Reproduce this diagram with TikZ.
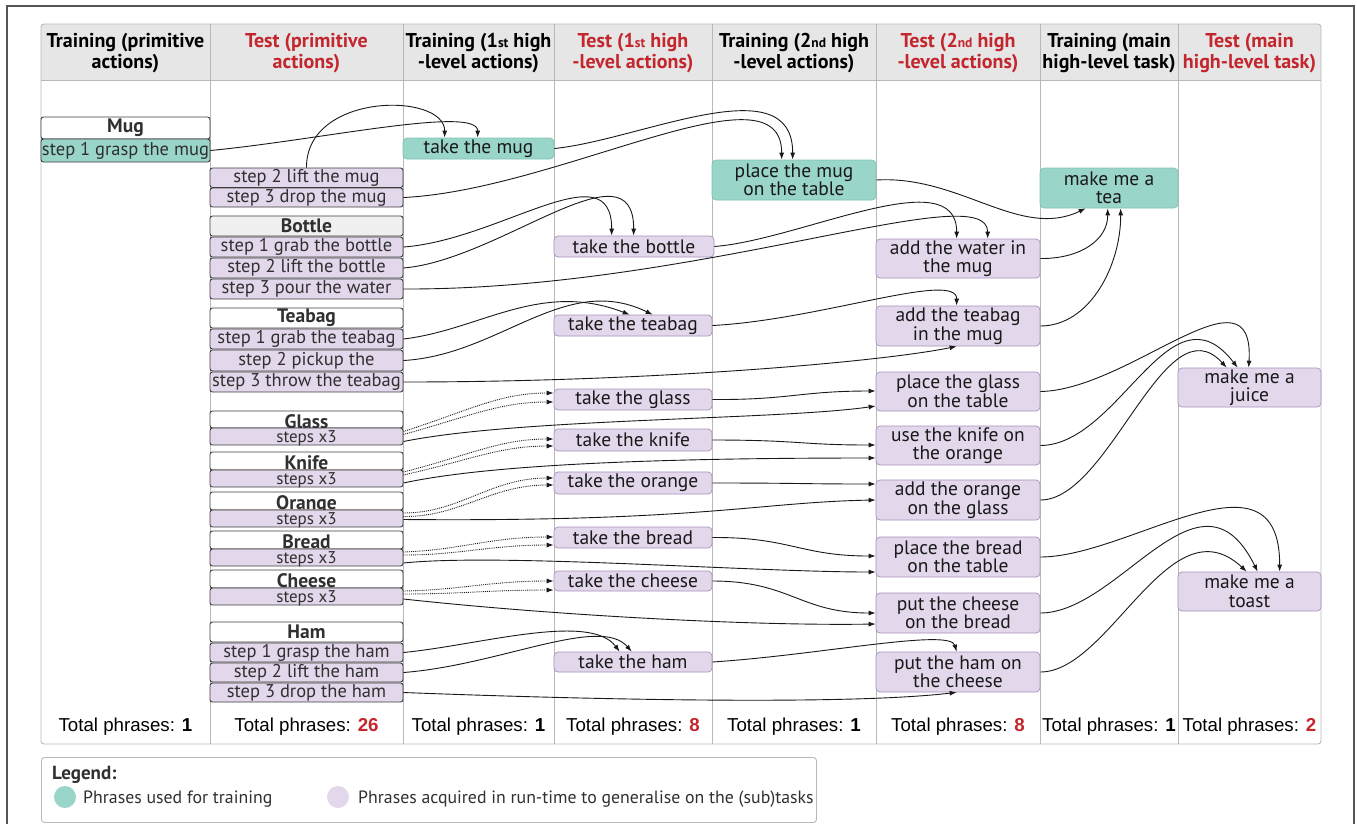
\documentclass[tikz,border=0pt]{standalone}
\usepackage{fontspec}
\setmainfont{PT Sans}
\newfontfamily\arialfont{Liberation Sans}
\usetikzlibrary{arrows.meta}

\definecolor{tealfill}{HTML}{9AD5C9}
\definecolor{tealline}{HTML}{7CC3B5}
\definecolor{lilac}{HTML}{E3D8EB}
\definecolor{lilacline}{HTML}{A690BD}
\definecolor{primline}{HTML}{3E3E3E}
\definecolor{textgray}{HTML}{303030}
\definecolor{testred}{HTML}{C4262E}
\definecolor{headfill}{HTML}{E6E6E6}
\definecolor{gridline}{HTML}{B8B8B8}
\definecolor{framecol}{HTML}{555555}

% box given by its corners (x1,y1) (x2,y2)
\newcommand\phrbox[7]{%
  \node[#1, minimum width={(#5)-(#3)}, minimum height={(#6)-(#4)}]
    (#2) at ({((#3)+(#5))/2},{((#4)+(#6))/2}) {#7};}
\newcommand\ordsup[1]{{\fontsize{13.5}{12}\selectfont #1}}

\begin{document}
\begin{tikzpicture}[x=1pt,y=-1pt,
  colhead/.style={align=center, inner sep=0pt, font=\bfseries\fontsize{20}{21.5}\selectfont, text=black},
  prim/.style={draw=primline, line width=0.9pt, rounded corners=2.5pt, inner sep=0pt,
    font=\fontsize{18.5}{18.5}\selectfont, text=textgray},
  primhead/.style={prim, fill=white, font=\bfseries\fontsize{19.5}{19.5}\selectfont},
  cuthead/.style={primhead, text height=17pt, text depth=0pt},
  primtrain/.style={prim, fill=tealfill},
  primtest/.style={prim, fill=lilac},
  stepsbox/.style={primtest, font=\fontsize{17}{17}\selectfont, text height=12pt, text depth=0pt},
  train/.style={draw=tealline, fill=tealfill, line width=0.7pt, rounded corners=4pt,
    inner sep=0pt, align=center, font=\fontsize{19.5}{18.5}\selectfont, text=black!90},
  test/.style={train, draw=lilacline, fill=lilac},
  total/.style={inner sep=0pt, font=\arialfont\fontsize{18.7}{18.7}\selectfont},
  arr/.style={-{Latex[length=7pt,width=5pt]}, line width=0.9pt, black!90},
  darr/.style={arr, densely dotted},
  legtext/.style={anchor=base west, inner sep=0pt, font=\fontsize{17.8}{17.8}\selectfont, text=textgray}
]
\useasboundingbox (0,0) rectangle (1357,823);

% outer frame
\draw[framecol, line width=1.4pt] (7,840) -- (7,6) -- (1354,6) -- (1354,840);

% table body and header band
\begin{scope}
  \clip[rounded corners=3pt] (41,24) rectangle (1321,744);
  \fill[headfill] (41,24) rectangle (1321,80);
\end{scope}
\draw[gridline, line width=0.9pt, rounded corners=3pt] (41,24) rectangle (1321,744);
\draw[gridline, line width=0.9pt] (41,80) -- (1321,80);
\foreach \cx in {210,403,554,712,876,1040,1178}
  \draw[gridline, line width=0.9pt] (\cx,24) -- (\cx,744);

% column headings
\node[colhead] (hd1) at (125.5,53) {Training (primitive\\actions)};
\node[colhead, text=testred] (hd2) at (306.5,53) {Test (primitive\\actions)};
\node[colhead] (hd3) at (478.5,53) {Training (1\ordsup{st} high\\-level actions)};
\node[colhead, text=testred] (hd4) at (633,53) {Test (1\ordsup{st} high\\-level actions)};
\node[colhead] (hd5) at (794,53) {Training (2\ordsup{nd} high\\-level actions)};
\node[colhead, text=testred] (hd6) at (958,53) {Test (2\ordsup{nd} high\\-level actions)};
\node[colhead] (hd7) at (1109,53) {Training (main\\high-level task)};
\node[colhead, text=testred] (hd8) at (1249.5,53) {Test (main\\high-level task)};

% primitive actions
\phrbox{primhead}{mughd}{41}{117}{210}{139}{Mug}
\phrbox{primtrain}{s1mug}{41}{139}{210}{162}{step 1 grasp the mug}
\phrbox{primtest}{s2mug}{210}{168}{403}{187.5}{step 2 lift the mug}
\phrbox{primtest}{s3mug}{210}{188}{403}{207}{step 3 drop the mug}
\phrbox{primhead,fill=black!6}{bottlehd}{210}{216}{403}{236}{Bottle}
\phrbox{primtest}{b1}{210}{237}{403}{257}{step 1 grab the bottle}
\phrbox{primtest}{b2}{210}{258}{403}{278}{step 2 lift the bottle}
\phrbox{primtest}{b3}{210}{279}{403}{299}{step 3 pour the water}
\phrbox{primhead}{teabaghd}{210}{308}{403}{328}{Teabag}
\phrbox{primtest}{t1}{210}{329}{403}{349}{step 1 grab the teabag}
\phrbox{primtest}{t2}{210}{350}{403}{371}{step 2 pickup the}
\phrbox{primtest}{t3}{210}{372}{403}{392}{step 3 throw the teabag}
\phrbox{cuthead}{glasshd}{210}{411}{403}{428}{Glass}
\phrbox{stepsbox}{gs}{210}{428}{403}{445}{steps x3}
\phrbox{cuthead}{knifehd}{210}{452}{403}{470}{Knife}
\phrbox{stepsbox}{ks}{210}{470}{403}{487}{steps x3}
\phrbox{cuthead}{orangehd}{210}{492}{403}{510}{Orange}
\phrbox{stepsbox}{os}{210}{510}{403}{527}{steps x3}
\phrbox{cuthead}{breadhd}{210}{531}{403}{549}{Bread}
\phrbox{stepsbox}{brs}{210}{549}{403}{566}{steps x3}
\phrbox{cuthead}{cheesehd}{210}{570}{403}{588}{Cheese}
\phrbox{stepsbox}{chs}{210}{588}{403}{605}{steps x3}
\phrbox{primhead}{hamhd}{210}{622}{403}{642}{Ham}
\phrbox{primtest}{h1}{210}{643}{403}{662}{step 1 grasp the ham}
\phrbox{primtest}{h2}{210}{663}{403}{682}{step 2 lift the ham}
\phrbox{primtest}{h3}{210}{683}{403}{702}{step 3 drop the ham}

% first high-level actions
\phrbox{train}{tmug}{403}{138}{554}{159}{take the mug}
\phrbox{test}{tbottle}{554}{236}{714}{257}{take the bottle}
\phrbox{test}{tteabag}{554}{315}{712}{336}{take the teabag}
\phrbox{test}{tglass}{554}{389}{712}{410}{take the glass}
\phrbox{test}{tknife}{554}{429}{712}{451}{take the knife}
\phrbox{test}{torange}{554}{472}{712}{494}{take the orange}
\phrbox{test}{tbread}{554}{527}{712}{548}{take the bread}
\phrbox{test}{tcheese}{554}{571}{712}{591}{take the cheese}
\phrbox{test}{tham}{554}{652}{712}{672}{take the ham}

% second high-level actions
\phrbox{train}{pmug}{712}{160}{876}{200}{place the mug\\on the table}
\phrbox{test}{awater}{876}{239}{1040}{278}{add the water in\\the mug}
\phrbox{test}{ateabag}{876}{306}{1040}{346}{add the teabag\\in the mug}
\phrbox{test}{pglass}{876}{372}{1040}{411}{place the glass\\on the table}
\phrbox{test}{uknife}{876}{426}{1040}{465}{use the knife on\\the orange}
\phrbox{test}{aorange}{876}{480}{1040}{520}{add the orange\\on the glass}
\phrbox{test}{pbread}{876}{537}{1040}{577}{place the bread\\on the table}
\phrbox{test}{pcheese}{876}{593}{1040}{633}{put the cheese\\on the bread}
\phrbox{test}{pham}{876}{652}{1040}{692}{put the ham on\\the cheese}

% main tasks
\phrbox{train}{tea}{1040}{168}{1178}{208}{make me a\\tea}
\phrbox{test}{juice}{1178}{368}{1321}{407}{make me a\\juice}
\phrbox{test}{toast}{1178}{572}{1321}{611}{make me a\\toast}

% mug
\draw[arr] (s1mug.east) .. controls (320,140) and (478,105) .. ([xshift=75pt]tmug.north west);
\draw[arr] (s2mug.north) .. controls (306,92) and (445,92) .. ([xshift=42pt]tmug.north west);
\draw[arr] (s3mug.east) .. controls (560,190) and (782,60) .. ([xshift=70pt]pmug.north west);
\draw[arr] (tmug.east) .. controls (640,140) and (793,65) .. ([xshift=81pt]pmug.north west);
\draw[arr] (pmug.east) .. controls (960,175) and (1020,240) .. ([xshift=46pt]tea.south west);

% bottle
\draw[arr] (b1.east) .. controls (500,240) and (612,150) .. ([xshift=58pt]tbottle.north west);
\draw[arr] (b2.east) .. controls (500,260) and (634,140) .. ([xshift=80pt]tbottle.north west);
\draw[arr] (tbottle.east) .. controls (800,240) and (957,160) .. ([xshift=81pt]awater.north west);
\draw[arr] (b3.east) .. controls (700,290) and (988,175) .. ([xshift=112pt]awater.north west);
\draw[arr] (awater.east) .. controls (1080,259) and (1108,240) .. ([xshift=68pt]tea.south west);

% teabag
\draw[arr] (t1.east) .. controls (480,330) and (540,280) .. ([xshift=76pt]tteabag.north west);
\draw[arr] (t2.east) .. controls (500,355) and (565,272) .. ([xshift=99pt]tteabag.north west);
\draw[arr] (tteabag.east) .. controls (820,320) and (957,270) .. ([xshift=81pt]ateabag.north west);
\draw[arr] (t3.east) .. controls (650,382) and (880,362) .. ([xshift=81pt]ateabag.south west);
\draw[arr] (ateabag.east) .. controls (1090,326) and (1121,265) .. ([xshift=81pt]tea.south west);

% glass
\draw[darr] ([yshift=5pt]gs.east) .. controls (470,410) and (500,393) .. ([yshift=6.5pt]tglass.west);
\draw[darr] ([yshift=2pt]gs.east) .. controls (470,416) and (500,402) .. ([yshift=-2.5pt]tglass.west);
\draw[arr] ([yshift=-5pt]gs.east) .. controls (520,418) and (780,420) .. ([yshift=-14.5pt]pglass.west);
\draw[arr] (tglass.east) .. controls (790,400) and (800,391) .. ([yshift=0.5pt]pglass.west);

% knife
\draw[darr] ([yshift=6.5pt]ks.east) .. controls (470,455) and (500,439) .. ([yshift=1pt]tknife.west);
\draw[darr] ([yshift=3.5pt]ks.east) .. controls (470,460) and (500,446) .. ([yshift=-6pt]tknife.west);
\draw[arr] ([yshift=-4.5pt]ks.east) .. controls (500,462) and (700,458) .. ([yshift=-12.5pt]uknife.west);
\draw[arr] (tknife.east) .. controls (800,440) and (800,445) .. ([yshift=0.5pt]uknife.west);

% orange
\draw[darr] ([yshift=5.5pt]os.east) .. controls (460,513) and (490,478) .. ([yshift=5pt]torange.west);
\draw[darr] ([yshift=2pt]os.east) .. controls (460,517) and (490,485) .. ([yshift=-2pt]torange.west);
\draw[arr] ([yshift=-1pt]os.east) .. controls (700,522) and (760,502) .. (aorange.west);
\draw[arr] (torange.east) .. controls (800,483) and (800,484) .. ([yshift=16pt]aorange.west);

% bread
\draw[darr] ([yshift=5.5pt]brs.east) .. controls (460,550) and (490,537) .. ([yshift=0.5pt]tbread.west);
\draw[darr] ([yshift=2.5pt]brs.east) .. controls (460,555) and (490,545) .. ([yshift=-7.5pt]tbread.west);
\draw[arr] ([yshift=-5.5pt]brs.east) .. controls (500,553) and (750,572) .. ([yshift=-15pt]pbread.west);
\draw[arr] (tbread.east) .. controls (790,537) and (800,556) .. ([yshift=1pt]pbread.west);

% cheese
\draw[darr] ([yshift=5.5pt]chs.east) .. controls (460,590) and (490,581) .. (tcheese.west);
\draw[darr] ([yshift=2.5pt]chs.east) .. controls (460,594) and (490,590) .. ([yshift=-9pt]tcheese.west);
\draw[arr] ([yshift=-2.5pt]chs.east) .. controls (550,615) and (750,626) .. ([yshift=-11pt]pcheese.west);
\draw[arr] (tcheese.east) .. controls (790,581) and (800,613) .. (pcheese.west);

% ham
\draw[arr] (h1.east) .. controls (480,645) and (590,612) .. ([xshift=66pt]tham.north west);
\draw[arr] (h2.east) .. controls (500,665) and (600,615) .. ([xshift=78pt]tham.north west);
\draw[arr] (tham.east) .. controls (820,655) and (950,628) .. ([xshift=81pt]pham.north west);
\draw[arr] (h3.east) .. controls (600,700) and (850,705) .. ([xshift=81pt]pham.south west);

% juice
\draw[arr] (pglass.east) .. controls (1130,390) and (1255,260) .. ([xshift=71pt]juice.north west);
\draw[arr] (uknife.east) .. controls (1120,445) and (1170,280) .. ([xshift=60pt]juice.north west);
\draw[arr] (aorange.east) .. controls (1110,500) and (1165,300) .. ([xshift=49pt]juice.north west);

% toast
\draw[arr] (pbread.east) .. controls (1130,557) and (1280,440) .. ([xshift=102pt]toast.north west);
\draw[arr] (pcheese.east) .. controls (1120,613) and (1200,455) .. ([xshift=80pt]toast.north west);
\draw[arr] (pham.east) .. controls (1110,672) and (1170,500) .. ([xshift=69pt]toast.north west);

% totals
\node[total] (tot1) at (125.5,727) {Total phrases: \textbf{1}};
\node[total] (tot2) at (306.5,727) {Total phrases: \textcolor{testred}{\textbf{26}}};
\node[total] (tot3) at (478.5,727) {Total phrases: \textbf{1}};
\node[total] (tot4) at (633,727) {Total phrases: \textcolor{testred}{\textbf{8}}};
\node[total] (tot5) at (794,727) {Total phrases: \textbf{1}};
\node[total] (tot6) at (958,727) {Total phrases: \textcolor{testred}{\textbf{8}}};
\node[total] (tot7) at (1109,727) {Total phrases: \textbf{1}};
\node[total] (tot8) at (1249.5,727) {Total phrases: \textcolor{testred}{\textbf{2}}};

% legend
\node[draw=gridline, line width=0.9pt, rounded corners=3pt, minimum width=775pt, minimum height=65pt,
  inner sep=0pt, anchor=north west] (legend) at (41,757) {};
\node[legtext, font=\bfseries\fontsize{19}{19}\selectfont] (legtitle) at (52,779) {Legend:};
\node[circle, fill=tealfill, minimum size=22pt, inner sep=0pt] (legtrain) at (65,797) {};
\node[legtext] (legtraintxt) at (83,803) {Phrases used for training};
\node[circle, fill=lilac, minimum size=22pt, inner sep=0pt] (legtest) at (338,797) {};
\node[legtext] (legtesttxt) at (358,803) {Phrases acquired in run-time to generalise on the (sub)tasks};
\end{tikzpicture}
\end{document}
